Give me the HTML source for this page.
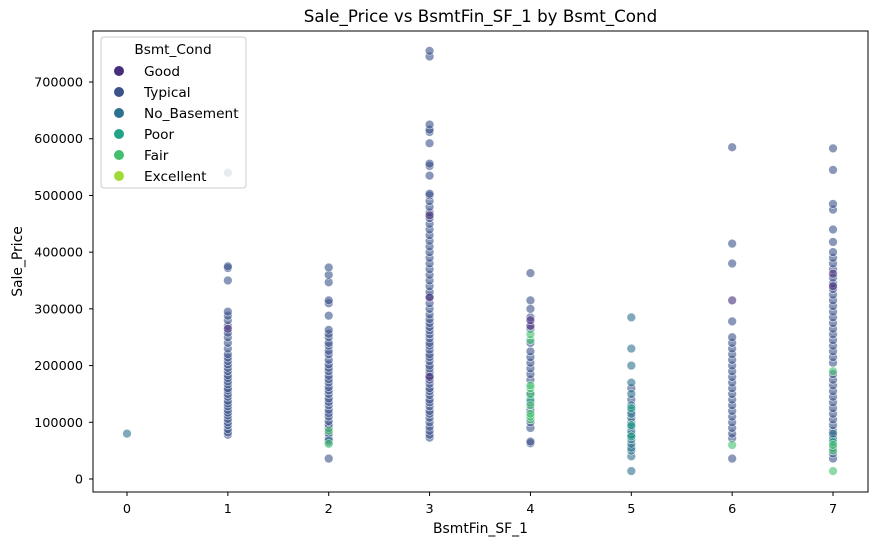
<!DOCTYPE html>
<html><head><meta charset="utf-8"><style>
body{margin:0;background:#fff;font-family:"Liberation Sans","DejaVu Sans",sans-serif}
</style></head><body>
<svg id="chart" width="877" height="545" xmlns="http://www.w3.org/2000/svg" font-family="DejaVu Sans, Liberation Sans, sans-serif">
<rect x="0" y="0" width="877" height="545" fill="#fff"/>
<g id="pts"></g>
<g id="axes"></g>
</svg>
<script>
const xTicks=[0,1,2,3,4,5,6,7];
const yTicks=[0,100000,200000,300000,400000,500000,600000,700000];
const categories=["Good","Typical","No_Basement","Poor","Fair","Excellent"];
const colors=["#472d7b","#3b528b","#2c728e","#21a386","#44bf70","#a0da39"];
const typicalPts=[[1,78],[1,82],[1,88],[1,95],[1,100],[1,106],[1,112],[1,117],[1,122],[1,128],[1,133],[1,138],[1,145],[1,150],[1,156],[1,160],[1,167],[1,172],[1,178],[1,183],[1,190],[1,196],[1,202],[1,208],[1,214],[1,220],[1,230],[1,240],[1,250],[1,258],[1,270],[1,280],[1,288],[1,295],[1,350],[1,372],[1,375],[1,540],
[2,36],[2,65],[2,72],[2,80],[2,90],[2,96],[2,102],[2,110],[2,116],[2,122],[2,130],[2,136],[2,142],[2,150],[2,156],[2,162],[2,170],[2,176],[2,182],[2,190],[2,196],[2,202],[2,210],[2,220],[2,226],[2,235],[2,240],[2,250],[2,256],[2,263],[2,288],[2,310],[2,315],[2,347],[2,360],[2,373],
[3,73],[3,78],[3,85],[3,92],[3,100],[3,108],[3,115],[3,120],[3,128],[3,135],[3,140],[3,148],[3,155],[3,160],[3,168],[3,175],[3,182],[3,188],[3,195],[3,200],[3,208],[3,215],[3,220],[3,228],[3,235],[3,240],[3,248],[3,255],[3,262],[3,268],[3,275],[3,282],[3,290],[3,300],[3,310],[3,322],[3,330],[3,340],[3,350],[3,360],[3,370],[3,380],[3,390],[3,400],[3,410],[3,420],[3,430],[3,440],[3,450],[3,460],[3,470],[3,480],[3,490],[3,500],[3,503],[3,535],[3,552],[3,556],[3,592],[3,612],[3,616],[3,625],[3,745],[3,755],
[4,63],[4,66],[4,90],[4,100],[4,122],[4,135],[4,150],[4,175],[4,185],[4,195],[4,205],[4,215],[4,225],[4,240],[4,265],[4,285],[4,300],[4,315],[4,363],
[5,80],[5,100],[5,120],[5,140],[5,160],
[6,36],[6,72],[6,80],[6,90],[6,100],[6,110],[6,120],[6,130],[6,140],[6,150],[6,160],[6,170],[6,180],[6,190],[6,200],[6,210],[6,220],[6,230],[6,240],[6,250],[6,278],[6,380],[6,415],[6,585],
[7,36],[7,45],[7,55],[7,75],[7,85],[7,95],[7,105],[7,115],[7,125],[7,135],[7,145],[7,155],[7,165],[7,175],[7,185],[7,205],[7,215],[7,225],[7,235],[7,245],[7,255],[7,265],[7,275],[7,285],[7,295],[7,305],[7,315],[7,325],[7,335],[7,345],[7,355],[7,370],[7,380],[7,390],[7,400],[7,418],[7,440],[7,475],[7,485],[7,545],[7,583]];
const goodPts=[[1,265],[3,180],[3,320],[3,465],[4,270],[4,280],[6,315],[7,340],[7,362]];
const noBasementPts=[[0,80],[2,68],[5,14],[5,40],[5,50],[5,55],[5,62],[5,70],[5,78],[5,85],[5,92],[5,108],[5,115],[5,130],[5,150],[5,170],[5,200],[5,230],[5,285],[7,70],[7,80]];
const poorPts=[[4,140],[5,75],[5,95],[5,125],[7,65]];
const fairPts=[[2,62],[2,85],[4,105],[4,110],[4,115],[4,130],[4,150],[4,160],[4,165],[4,245],[4,255],[6,60],[7,14],[7,50],[7,60],[7,190]];
const excellentPts=[];
const L=93,R=868,T=31,B=492;
const xs=v=>127+v*100.86;
const ys=v=>479-v/100000*56.71;
const NS="http://www.w3.org/2000/svg";
function mk(tag,attrs,parent,txt){const e=document.createElementNS(NS,tag);for(const k in attrs)e.setAttribute(k,attrs[k]);if(txt!==undefined)e.textContent=txt;parent.appendChild(e);return e;}
const pg=document.getElementById('pts');
const groups=[[typicalPts,1],[goodPts,0],[noBasementPts,2],[poorPts,3],[fairPts,4],[excellentPts,5]];
groups.forEach(([arr,ci])=>{arr.forEach(p=>{
 const c=mk('circle',{cx:xs(p[0]),cy:ys(p[1]*1000),r:4.4,fill:colors[ci],'fill-opacity':0.6,stroke:'#fff','stroke-width':0.6,'stroke-opacity':0.8},pg);
 
 
});});
const ax=document.getElementById('axes');
mk('rect',{x:L,y:T,width:R-L,height:B-T,fill:'none',stroke:'#000','stroke-width':1},ax);
xTicks.forEach(t=>{mk('line',{x1:xs(t),x2:xs(t),y1:B,y2:B+4,stroke:'#000'},ax);
 const e=mk('text',{x:xs(t),y:B+21,'text-anchor':'middle','font-size':12.8},ax,String(t));
 });
yTicks.forEach(t=>{mk('line',{x1:L-4,x2:L,y1:ys(t),y2:ys(t),stroke:'#000'},ax);
 const e=mk('text',{x:L-10,y:ys(t)+4.5,'text-anchor':'end','font-size':12.8},ax,String(t));
 });
let e=mk('text',{x:(L+R)/2,y:22,'text-anchor':'middle','font-size':16.7},ax,'Sale_Price vs BsmtFin_SF_1 by Bsmt_Cond');

e=mk('text',{x:(L+R)/2,y:533,'text-anchor':'middle','font-size':13.9},ax,'BsmtFin_SF_1');

e=mk('text',{x:22,y:(T+B)/2,'text-anchor':'middle','font-size':13.9,transform:'rotate(-90 22 '+((T+B)/2)+')'},ax,'Sale_Price');

const lg=mk('g',{},ax);

mk('rect',{x:101,y:37,width:145,height:151,rx:3,fill:'#fff','fill-opacity':0.8,stroke:'#ccc'},lg);
mk('text',{x:173,y:54,'text-anchor':'middle','font-size':13.7},lg,'Bsmt_Cond');
categories.forEach((c,i)=>{const y=71+i*21;
 const g=mk('g',{},lg);
 
 mk('circle',{cx:119,cy:y,r:5,fill:colors[i]},g);
 mk('text',{x:144,y:y+5,'font-size':13.7},g,c);});
</script>
</body></html>
